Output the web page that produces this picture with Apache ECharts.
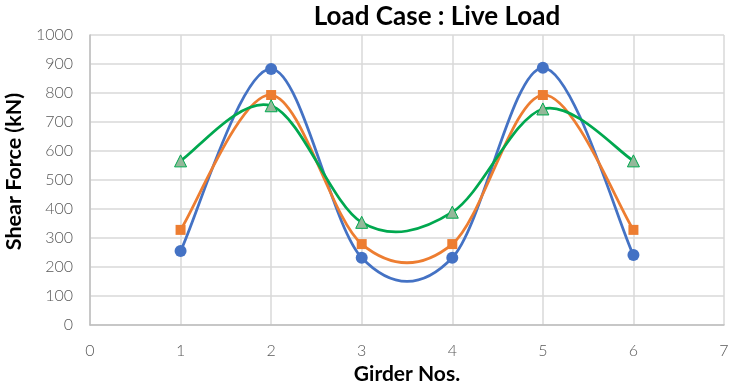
<!DOCTYPE html>
<html>
<head>
<meta charset="utf-8">
<script src="https://cdn.jsdelivr.net/npm/echarts@6/dist/echarts.min.js"></script>
<style>html,body{margin:0;padding:0;background:#fff}#c{width:733px;height:382px}</style>
</head>
<body>
<div id="c"></div>
<script>
const girders = [1, 2, 3, 4, 5, 6];
const seriesBlue = [255, 883, 232, 232, 887, 241];
const seriesOrange = [328, 793, 279, 279, 793, 328];
const seriesGreen = [566, 756, 354, 389, 745, 566];
const yTicks = [0, 100, 200, 300, 400, 500, 600, 700, 800, 900, 1000];
const xTicks = [0, 1, 2, 3, 4, 5, 6, 7];

const pairs = arr => girders.map((g, i) => [g, arr[i]]);
const font = 'Lato, "Open Sans", "Liberation Sans", sans-serif';

// Excel-like smoothed curve (Catmull-Rom Bezier segments) drawn through the axis scales
function splineSeries(values, color, z) {
  return {
    type: 'custom', z: z, silent: true,
    data: pairs(values),
    renderItem: function (params, api) {
      const i = params.dataIndex;
      const n = girders.length;
      if (i >= n - 1) return null;
      const P = k => {
        const j = Math.max(0, Math.min(n - 1, k));
        return api.coord([girders[j], values[j]]);
      };
      const p0 = P(i - 1), p1 = P(i), p2 = P(i + 1), p3 = P(i + 2);
      return {
        type: 'bezierCurve',
        shape: {
          x1: p1[0], y1: p1[1], x2: p2[0], y2: p2[1],
          cpx1: p1[0] + (p2[0] - p0[0]) / 6, cpy1: p1[1] + (p2[1] - p0[1]) / 6,
          cpx2: p2[0] - (p3[0] - p1[0]) / 6, cpy2: p2[1] - (p3[1] - p1[1]) / 6
        },
        style: {stroke: color, lineWidth: 2.75, fill: null, lineCap: 'round'}
      };
    }
  };
}

function markerSeries(values, symbol, size, fill, border, z) {
  return {
    type: 'scatter', z: z, data: pairs(values),
    symbol: symbol, symbolSize: size,
    itemStyle: {color: fill, borderColor: border, borderWidth: border ? 1 : 0, opacity: 1}
  };
}

const chart = echarts.init(document.getElementById('c'), null, {renderer: 'canvas'});
chart.setOption({
  animation: false,
  backgroundColor: '#fff',
  title: {
    text: 'Load Case : Live Load',
    left: 432, top: -1, textAlign: 'center',
    textStyle: {fontFamily: font, fontSize: 26, fontWeight: 'bold', color: '#000'}
  },
  grid: {left: 90, right: 9, top: 35, bottom: 57, containLabel: false, outerBoundsMode: 'none'},
  xAxis: {
    type: 'value', min: xTicks[0], max: xTicks[xTicks.length - 1], interval: 1,
    name: 'Girder Nos.', nameLocation: 'middle', nameGap: 33,
    nameTextStyle: {fontFamily: font, fontSize: 21, fontWeight: 'bold', color: '#000'},
    axisLine: {show: true, lineStyle: {color: '#bfbfbf', width: 1.5}},
    axisTick: {show: false},
    axisLabel: {fontFamily: font, fontSize: 16, color: '#595959', margin: 18, fontWeight: 300},
    splitLine: {show: true, lineStyle: {color: '#d9d9d9', width: 1.5}}
  },
  yAxis: {
    type: 'value', min: yTicks[0], max: yTicks[yTicks.length - 1], interval: 100,
    name: 'Shear Force (kN)', nameLocation: 'middle', nameGap: 55,
    nameTextStyle: {fontFamily: font, fontSize: 21.5, fontWeight: 'bold', color: '#000',
      padding: [0, 0, 0, 17]},
    axisLine: {show: true, lineStyle: {color: '#bfbfbf', width: 1.5}},
    axisTick: {show: false},
    axisLabel: {fontFamily: font, fontSize: 16, color: '#595959', margin: 17, fontWeight: 300,
      formatter: v => String(v)},
    splitLine: {show: true, lineStyle: {color: '#d9d9d9', width: 1.5}}
  },
  series: [
    splineSeries(seriesBlue, '#4472c4', 2),
    markerSeries(seriesBlue, 'circle', 12, '#4472c4', null, 3),
    splineSeries(seriesOrange, '#ed7d31', 4),
    markerSeries(seriesOrange, 'rect', 10, '#ed7d31', null, 5),
    splineSeries(seriesGreen, '#00a84f', 6),
    markerSeries(seriesGreen, 'triangle', 12, '#94b89a', '#00a84f', 7)
  ]
});
</script>
</body>
</html>
